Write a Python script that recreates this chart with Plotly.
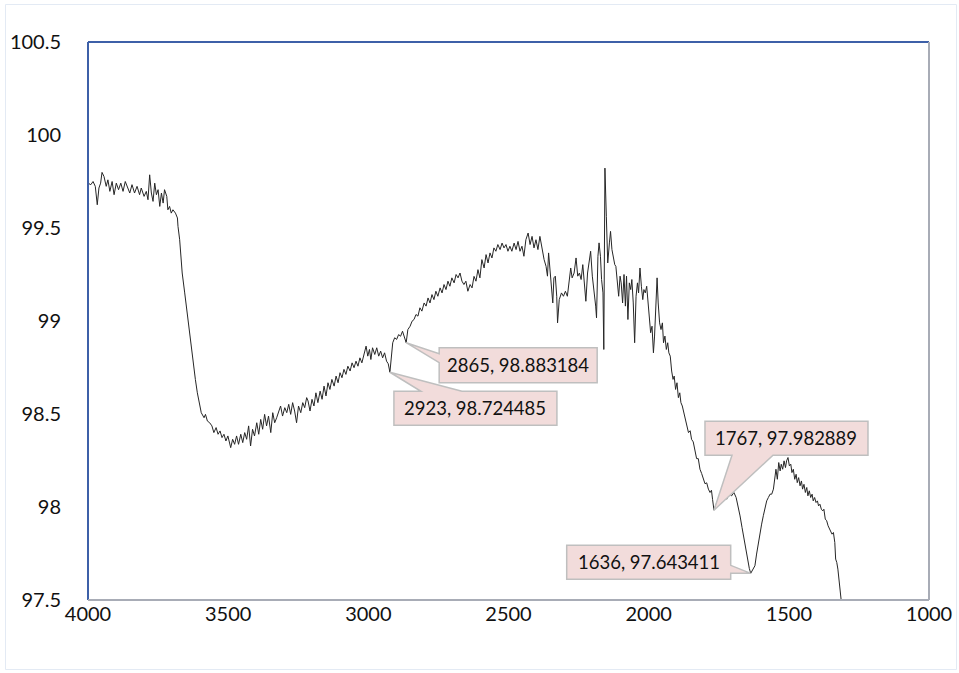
import plotly.graph_objects as go

# ---------------- data ----------------
wavenumber = [
    4000, 3990, 3982, 3974, 3967, 3961, 3955, 3950, 3943, 3935, 3929, 3922, 3914, 3907, 3899, 3891,
    3883, 3875, 3867, 3860, 3851, 3843, 3834, 3825, 3816, 3810, 3800, 3792, 3786, 3780, 3774, 3768,
    3762, 3756, 3750, 3744, 3738, 3732, 3727, 3719, 3715, 3709, 3703, 3697, 3688, 3681,
    3679, 3673, 3669, 3664, 3655, 3648, 3640, 3631, 3624, 3617, 3610, 3604, 3596, 3586, 3581, 3574,
    3566, 3558, 3551, 3543, 3536, 3529, 3522, 3515, 3508, 3501, 3491, 3484, 3477, 3470, 3463, 3455,
    3448, 3441, 3434, 3427, 3420, 3413, 3406, 3398, 3391, 3384, 3377, 3370, 3363, 3356, 3348, 3341,
    3334, 3327, 3320, 3313, 3306, 3298, 3291, 3284, 3277, 3270, 3263, 3256, 3249, 3241, 3234, 3227,
    3220, 3215, 3208, 3201, 3194, 3187, 3180, 3172, 3165, 3158, 3151, 3144, 3137, 3130, 3122, 3115,
    3108, 3101, 3094, 3087, 3080, 3073, 3065, 3058, 3051, 3044, 3037, 3030, 3023, 3016, 3008, 3002,
    2996, 2991, 2985, 2977, 2970, 2963, 2956, 2949, 2942, 2935, 2929, 2923, 2918, 2913, 2906, 2899,
    2892, 2885, 2878, 2872, 2865, 2859, 2851, 2844, 2837, 2830, 2823, 2816, 2809, 2801, 2794, 2787,
    2780, 2773, 2766, 2759, 2752, 2744, 2737, 2730, 2723, 2716, 2709, 2702, 2694, 2687, 2680, 2673,
    2666, 2659, 2652, 2645, 2637, 2630, 2623, 2616, 2609, 2602, 2595, 2587, 2580, 2573, 2566, 2559,
    2552, 2545, 2538, 2530, 2523, 2516, 2509, 2502, 2495, 2488, 2480, 2473, 2466, 2459, 2452, 2445,
    2438, 2430, 2423, 2416, 2409, 2402, 2395, 2388, 2381, 2373, 2366, 2361, 2357, 2352, 2347, 2342,
    2338, 2333, 2328, 2325, 2319, 2311, 2304, 2297, 2290, 2283, 2278, 2273, 2266, 2259, 2253, 2247,
    2241, 2235, 2229, 2224, 2218, 2212, 2207, 2201, 2195, 2189, 2186, 2181, 2177, 2172, 2168, 2163,
    2160, 2156, 2151, 2146, 2140, 2136, 2131, 2126, 2121, 2117, 2112, 2107, 2102, 2098, 2093, 2088,
    2083, 2079, 2074, 2069, 2064, 2060, 2055, 2050, 2045, 2040, 2036, 2031, 2026, 2021, 2017, 2012,
    2007, 2002, 1998, 1993, 1988, 1983, 1979, 1974, 1970, 1966, 1961, 1956, 1951, 1947, 1942, 1937,
    1932, 1928, 1923, 1918, 1913, 1909, 1904, 1899, 1894, 1889, 1885, 1880, 1875, 1870, 1864, 1858,
    1852, 1847, 1841, 1835, 1829, 1823, 1817, 1811, 1805, 1799, 1793, 1787, 1781, 1776, 1772, 1767,
    1757, 1748, 1740, 1730, 1722, 1712, 1704, 1696, 1688, 1681, 1674, 1667, 1660, 1653, 1646, 1641,
    1636, 1621, 1615, 1609, 1603, 1597, 1591, 1585, 1579, 1573, 1567, 1561, 1555, 1549, 1546, 1541,
    1536, 1531, 1527, 1522, 1517, 1512, 1508, 1503, 1498, 1493, 1489, 1484, 1479, 1474, 1470, 1465,
    1460, 1455, 1451, 1446, 1441, 1436, 1432, 1427, 1422, 1417, 1413, 1408, 1403, 1398, 1394, 1389,
    1384, 1379, 1375, 1370, 1365, 1360, 1355, 1351, 1346, 1341, 1336, 1333, 1329, 1325, 1320, 1316,
    1314, 1312,
]

transmittance = [
    99.741, 99.733, 99.750, 99.724, 99.625, 99.715, 99.741, 99.799, 99.777, 99.724, 99.759, 99.697, 99.750, 99.679, 99.741, 99.706,
    99.741, 99.697, 99.750, 99.724, 99.688, 99.733, 99.688, 99.724, 99.679, 99.715, 99.670, 99.697, 99.652, 99.786, 99.688, 99.643,
    99.741, 99.679, 99.706, 99.616, 99.688, 99.634, 99.706, 99.670, 99.598, 99.616, 99.580, 99.598, 99.580, 99.554,
    99.509, 99.437, 99.348, 99.258, 99.151, 99.062, 98.954, 98.847, 98.757, 98.686, 98.614, 98.561, 98.507, 98.480, 98.498, 98.462,
    98.453, 98.436, 98.400, 98.427, 98.391, 98.409, 98.373, 98.391, 98.355, 98.382, 98.319, 98.364, 98.337, 98.382, 98.337, 98.391,
    98.346, 98.400, 98.364, 98.436, 98.328, 98.418, 98.382, 98.453, 98.391, 98.471, 98.418, 98.498, 98.436, 98.489, 98.400, 98.507,
    98.453, 98.480, 98.507, 98.543, 98.489, 98.534, 98.507, 98.552, 98.498, 98.561, 98.516, 98.453, 98.543, 98.507, 98.561, 98.534,
    98.588, 98.570, 98.516, 98.579, 98.543, 98.614, 98.561, 98.623, 98.579, 98.650, 98.597, 98.668, 98.632, 98.686, 98.650, 98.704,
    98.668, 98.722, 98.695, 98.740, 98.713, 98.757, 98.731, 98.775, 98.749, 98.784, 98.757, 98.802, 98.775, 98.820, 98.865, 98.811,
    98.847, 98.793, 98.856, 98.820, 98.856, 98.811, 98.838, 98.802, 98.829, 98.784, 98.770, 98.724485, 98.820, 98.883, 98.910, 98.901,
    98.927, 98.918, 98.945, 98.910, 98.883184, 98.954, 98.972, 98.999, 99.008, 99.035, 99.026, 99.071, 99.053, 99.097, 99.080, 99.124,
    99.097, 99.142, 99.115, 99.160, 99.133, 99.178, 99.151, 99.196, 99.169, 99.214, 99.187, 99.232, 99.205, 99.250, 99.232, 99.258,
    99.214, 99.196, 99.214, 99.160, 99.196, 99.178, 99.240, 99.214, 99.276, 99.232, 99.330, 99.285, 99.357, 99.312, 99.366, 99.339,
    99.393, 99.375, 99.411, 99.384, 99.419, 99.393, 99.411, 99.375, 99.402, 99.375, 99.419, 99.384, 99.428, 99.375, 99.402, 99.348,
    99.437, 99.473, 99.411, 99.455, 99.393, 99.437, 99.384, 99.455, 99.384, 99.330, 99.294, 99.241, 99.366, 99.276, 99.223, 99.097,
    99.232, 99.241, 99.133, 98.990, 99.115, 99.151, 99.133, 99.160, 99.133, 99.241, 99.285, 99.232, 99.258, 99.339, 99.241, 99.258,
    99.223, 99.303, 99.187, 99.106, 99.258, 99.330, 99.375, 99.241, 99.169, 99.080, 99.017, 99.348, 99.420, 99.348, 99.223, 99.151,
    98.847, 99.822, 99.563, 99.312, 99.420, 99.482, 99.384, 99.330, 99.303, 99.294, 99.205, 99.133, 99.241, 99.205, 99.097, 99.250,
    99.080, 99.241, 99.008, 99.205, 99.169, 99.223, 99.097, 98.883, 99.133, 99.205, 99.151, 99.285, 99.187, 99.115, 99.169, 99.151,
    99.187, 99.097, 99.008, 98.937, 98.972, 98.829, 98.919, 99.080, 99.232, 99.097, 98.990, 98.954, 98.990, 98.883, 98.919, 98.847,
    98.883, 98.829, 98.811, 98.731, 98.686, 98.704, 98.632, 98.668, 98.588, 98.614, 98.561, 98.543, 98.507, 98.471, 98.436, 98.400,
    98.410, 98.364, 98.350, 98.300, 98.260, 98.260, 98.203, 98.180, 98.150, 98.125, 98.130, 98.096, 98.078, 98.090, 98.040, 97.982889,
    98.024, 98.051, 98.033, 98.060, 98.042, 98.069, 98.060, 98.078, 98.051, 98.006, 97.952, 97.890, 97.827, 97.765, 97.711, 97.670,
    97.643411, 97.684, 97.747, 97.809, 97.863, 97.908, 97.953, 97.997, 98.033, 98.051, 98.069, 98.069, 98.096, 98.167, 98.203, 98.149,
    98.239, 98.194, 98.230, 98.203, 98.248, 98.212, 98.248, 98.266, 98.221, 98.230, 98.185, 98.203, 98.149, 98.176, 98.131, 98.158,
    98.114, 98.140, 98.096, 98.122, 98.078, 98.105, 98.060, 98.087, 98.051, 98.069, 98.033, 98.051, 98.024, 98.033, 98.006, 98.015,
    97.988, 97.979, 97.988, 97.935, 97.926, 97.899, 97.881, 97.872, 97.854, 97.863, 97.809, 97.720, 97.702, 97.666, 97.595, 97.541,
    97.505, 97.480,
]

# labelled points
label_wn = [2923, 2865, 1767, 1636]
label_val = [98.724485, 98.883184, 97.982889, 97.643411]

# axis ticks
x_ticks = [4000, 3500, 3000, 2500, 2000, 1500, 1000]
y_ticks = [97.5, 98, 98.5, 99, 99.5, 100, 100.5]
y_tick_text = ["97.5", "98", "98.5", "99", "99.5", "100", "100.5"]

# ---------------- style / layout ----------------
FONT = "Lato"
LINE_COLOR = "#262626"
BOX_FILL = "#f2dcdb"
BOX_LINE = "#bfbfbf"

# callout geometry in screen pixels relative to the labelled point (dx right, dy down):
# box [x0, x1, y0, y1], wedge side and wedge base span
callouts = [
    dict(box=(4, 167, 19, 53), side="top", base=(31, 72)),
    dict(box=(33, 191, 5, 40), side="left", base=(11, 20)),
    dict(box=(-9, 154, -89, -55), side="bottom", base=(18, 59)),
    dict(box=(-184, -20, -28, 6), side="right", base=(-8, 0)),
]


def callout_path(c):
    x0, x1, y0, y1 = c["box"]
    b0, b1 = c["base"]
    s = c["side"]
    if s == "top":
        pts = [(x0, y0), (b0, y0), (0, 0), (b1, y0), (x1, y0), (x1, y1), (x0, y1)]
    elif s == "bottom":
        pts = [(x0, y0), (x1, y0), (x1, y1), (b1, y1), (0, 0), (b0, y1), (x0, y1)]
    elif s == "left":
        pts = [(x0, y0), (x1, y0), (x1, y1), (x0, y1), (x0, b1), (0, 0), (x0, b0)]
    else:  # right
        pts = [(x0, y0), (x1, y0), (x1, b0), (0, 0), (x1, b1), (x1, y1), (x0, y1)]
    # plotly pixel-mode shapes: y is positive upward
    return "M " + " L ".join(f"{px},{-py}" for px, py in pts) + " Z"


fig = go.Figure()
fig.add_trace(go.Scatter(
    x=wavenumber, y=transmittance, mode="lines",
    line=dict(color=LINE_COLOR, width=1), hoverinfo="skip", showlegend=False,
))

shapes = []
annotations = []
for wn, val, c in zip(label_wn, label_val, callouts):
    shapes.append(dict(
        type="path", xref="x", yref="y", xsizemode="pixel", ysizemode="pixel",
        xanchor=wn, yanchor=val, path=callout_path(c),
        fillcolor=BOX_FILL, line=dict(color=BOX_LINE, width=1.5), layer="above",
    ))
    x0, x1, y0, y1 = c["box"]
    annotations.append(dict(
        x=wn, y=val, xref="x", yref="y", showarrow=False,
        text=f"{wn}, {val}", font=dict(family=FONT, size=18.5, color="#111111"),
        xanchor="center", yanchor="middle",
        xshift=(x0 + x1) / 2, yshift=-(y0 + y1) / 2,
    ))

# plot-area borders: blue on left/top, grey on right/bottom
BLUE = "#3d60a8"
GREY = "#a8acb6"
shapes += [
    dict(type="line", xref="paper", yref="paper", x0=0, x1=1, y0=1, y1=1, line=dict(color=BLUE, width=2), layer="above"),
    dict(type="line", xref="paper", yref="paper", x0=0, x1=0, y0=0, y1=1, line=dict(color=BLUE, width=2), layer="above"),
    dict(type="line", xref="paper", yref="paper", x0=1, x1=1, y0=0, y1=1, line=dict(color=GREY, width=2), layer="above"),
    dict(type="line", xref="paper", yref="paper", x0=0, x1=1, y0=0, y1=0, line=dict(color=GREY, width=2), layer="above"),
    # faint outer chart frame
    dict(type="rect", xref="paper", yref="paper", x0=-0.0981, x1=1.0327, y0=-0.1246, y1=1.0672,
         line=dict(color="#e3eaf4", width=1), fillcolor="rgba(0,0,0,0)", layer="below"),
]

fig.update_layout(
    width=959, height=673,
    margin=dict(l=88, r=30, t=42, b=73, autoexpand=False),
    paper_bgcolor="white", plot_bgcolor="white",
    font=dict(family=FONT, size=20, color="#111111"),
    shapes=shapes, annotations=annotations,
    showlegend=False,
    xaxis=dict(
        range=[4000, 1000], tickmode="array", tickvals=x_ticks,
        ticktext=[str(t) for t in x_ticks], automargin=False,
        showgrid=False, zeroline=False, showline=False,
        ticks="", ticklabelstandoff=0,
        tickfont=dict(family=FONT, size=20, color="#111111"),
    ),
    yaxis=dict(
        range=[97.5, 100.5], tickmode="array", tickvals=y_ticks, ticktext=y_tick_text,
        automargin=False,
        showgrid=False, zeroline=False, showline=False,
        ticks="outside", ticklen=22, tickcolor="rgba(0,0,0,0)",
        tickfont=dict(family=FONT, size=20, color="#111111"),
    ),
)

fig.write_html("out.html")
